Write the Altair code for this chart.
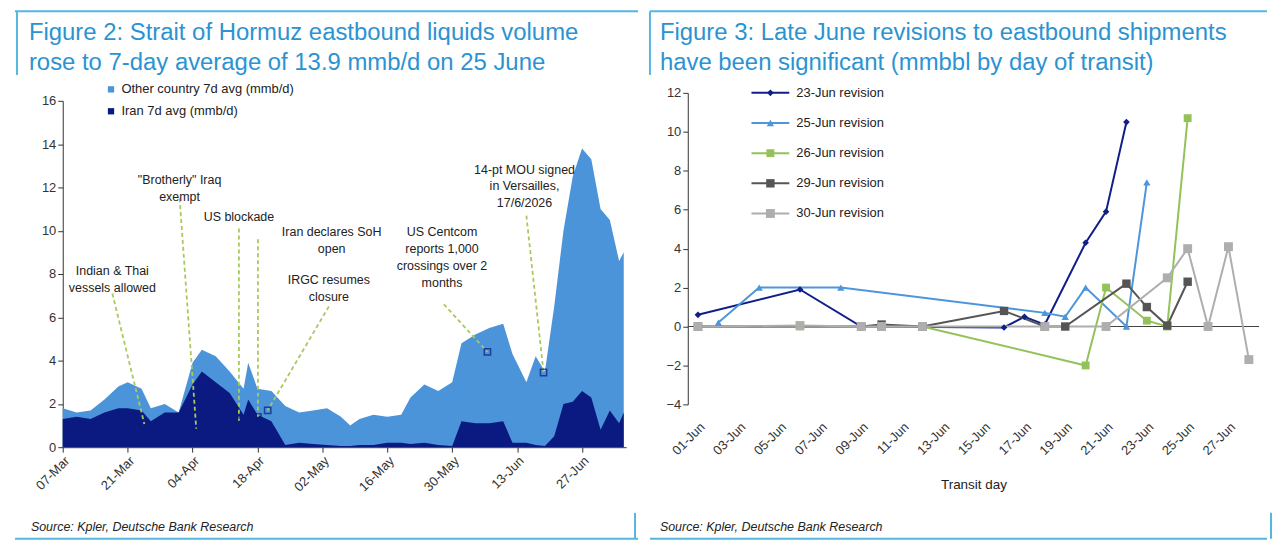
import pandas as pd
import altair as alt

FONT = "Liberation Sans, Arial"
TITLE_BLUE = "#2b93d1"
FRAME = "#55b6e0"

# ---- Figure 2 data: days after 07-Mar, total (other + Iran) and Iran, mmb/d
days = [0, 3, 6, 9, 12, 14, 17, 19, 22, 25, 28, 30, 33, 36, 39, 40, 42, 45, 48, 51,
        54, 57, 60, 62, 64, 67, 70, 73, 75, 78, 81, 84, 86, 89, 92, 95, 97, 100, 102,
        104, 106, 108, 110, 112, 114, 116, 118, 120, 121]
total = [1.8, 1.6, 1.7, 2.2, 2.8, 3.0, 2.7, 1.8, 2.0, 1.6, 3.9, 4.5, 4.2, 3.5, 2.7,
         3.9, 2.7, 2.6, 1.9, 1.6, 1.7, 1.8, 1.4, 1.0, 1.3, 1.5, 1.4, 1.5, 2.3, 2.9,
         2.6, 3.0, 4.8, 5.2, 5.5, 5.7, 4.3, 3.0, 4.2, 3.5, 6.5, 10.0, 12.5, 13.8,
         13.3, 11.0, 10.5, 8.6, 9.0]
iran = [1.3, 1.4, 1.3, 1.6, 1.8, 1.8, 1.7, 1.2, 1.6, 1.6, 2.9, 3.5, 3.0, 2.5, 1.5,
        2.2, 1.5, 1.2, 0.1, 0.2, 0.15, 0.1, 0.05, 0.05, 0.1, 0.1, 0.2, 0.2, 0.15, 0.2,
        0.1, 0.05, 1.2, 1.1, 1.1, 1.2, 0.2, 0.2, 0.1, 0.05, 0.5, 2.0, 2.1, 2.6, 2.3,
        0.8, 1.7, 1.1, 1.6]
OTHER = "Other country 7d avg (mmb/d)"
IRAN = "Iran 7d avg (mmb/d)"

# annotations: text, text day, text y, line start (day, y), marker (day, y)
ann_text = ["Indian & Thai\nvessels allowed", "\"Brotherly\" Iraq\nexempt", "US blockade",
            "Iran declares SoH\nopen", "IRGC resumes\nclosure",
            "US Centcom\nreports 1,000\ncrossings over 2\nmonths",
            "14-pt MOU signed\nin Versailles,\n17/6/2026"]
ann_tx = [10.7, 25.2, 38.0, 58.0, 57.4, 81.8, 99.6]
ann_ty = [8.4, 12.6, 10.9, 10.2, 8.0, 10.2, 13.1]
ann_lx = [10.7, 25.2, 38.0, 42.1, 57.4, 82.2, 100.0]
ann_ly = [7.1, 11.5, 10.1, 9.6, 6.5, 6.6, 10.7]
ann_mx = [17.6, 28.8, 38.0, 42.1, 44.2, 91.6, 103.7]
ann_my = [1.07, 0.85, 1.2, 1.4, 1.7, 4.4, 3.45]

# ---- Figure 3 data: revisions by transit day (day of June)
rev_names = ["23-Jun revision", "25-Jun revision", "26-Jun revision",
             "29-Jun revision", "30-Jun revision"]
rev_days = [
    [1, 6, 9, 16, 17, 18, 20, 21, 22],
    [2, 4, 8, 18, 19, 20, 22, 23],
    [1, 6, 9, 10, 12, 20, 21, 23, 24, 25],
    [1, 9, 10, 12, 16, 18, 19, 22, 23, 24, 25],
    [1, 6, 9, 10, 12, 18, 21, 24, 25, 26, 27, 28],
]
rev_vals = [
    [0.6, 1.9, 0.0, -0.05, 0.5, 0.1, 4.3, 5.9, 10.5],
    [0.2, 2.0, 2.0, 0.7, 0.5, 2.0, 0.0, 7.4],
    [0.0, 0.0, 0.0, 0.0, 0.0, -2.0, 2.0, 0.3, 0.0, 10.7],
    [0.0, 0.0, 0.1, 0.0, 0.8, 0.0, 0.0, 2.2, 1.0, 0.05, 2.3],
    [0.0, 0.05, 0.0, 0.0, 0.0, 0.0, 0.0, 2.5, 4.0, 0.0, 4.1, -1.7],
]
rev_colors = ["#101e8a", "#4d95dc", "#94c25a", "#555555", "#aeaeae"]
rev_shapes = ["diamond", "triangle-up", "square", "square", "square"]
rev_sizes = [45, 80, 40, 110, 110]

start = pd.Timestamp("2026-03-07")
area_df = pd.DataFrame({
    "date": [start + pd.Timedelta(days=d) for d in days] * 2,
    "v": total + iran,
    "s": [OTHER] * len(days) + [IRAN] * len(days),
})
ann_df = pd.DataFrame({
    "t": ann_text,
    "tx": [start + pd.Timedelta(days=d) for d in ann_tx],
    "ty": ann_ty,
    "lx": [start + pd.Timedelta(days=d) for d in ann_lx],
    "ly": ann_ly,
    "mx": [start + pd.Timedelta(days=d) for d in ann_mx],
    "my": ann_my,
})

W1, H1 = 566, 348
W2, H2 = 574, 313


def frame(left, right, top, bottom, vx_top, vx_bottom, src_x, title, tx, ty):
    lines = pd.DataFrame({
        "x": [left, vx_top, left, vx_bottom],
        "x2": [right, vx_top, right, vx_bottom],
        "y": [top, top, bottom, bottom - 26],
        "y2": [top, top + 64, bottom, bottom],
    })
    fr = alt.Chart(lines).mark_rule(color=FRAME, strokeWidth=2).encode(
        x=alt.X("x:Q", scale=None), x2="x2:Q", y=alt.Y("y:Q", scale=None), y2="y2:Q")
    src = alt.Chart(pd.DataFrame({"t": ["Source: Kpler, Deutsche Bank Research"]})).mark_text(
        align="left", fontStyle="italic", fontSize=12.5, font=FONT, color="#222").encode(
        x=alt.value(src_x), y=alt.value(bottom - 12), text="t:N")
    ttl = alt.Chart(pd.DataFrame({"t": [title]})).mark_text(
        align="left", baseline="top", fontSize=24, font=FONT, color=TITLE_BLUE,
        lineBreak="\n", lineHeight=30).encode(x=alt.value(tx), y=alt.value(ty), text="t:N")
    return fr + src + ttl


xl = alt.X("date:T", scale=alt.Scale(type="utc", domain=[start.isoformat(), (start + pd.Timedelta(days=121.5)).isoformat()]),
           axis=alt.Axis(title=None, format="%d-%b", labelAngle=-45, grid=False,
                         values=[(start + pd.Timedelta(days=14 * k)).isoformat() for k in range(9)],
                         labelAlign="right", labelBaseline="top", domainColor="#333", tickColor="#333"))
yl = alt.Y("v:Q", scale=alt.Scale(domain=[0, 16]),
           axis=alt.Axis(title=None, values=list(range(0, 17, 2)), grid=False, labelOverlap=False,
                         domainColor="#333", tickColor="#333"))
col1 = alt.Color("s:N", scale=alt.Scale(domain=[OTHER, IRAN], range=["#4b94da", "#0b1a80"]),
                 legend=alt.Legend(title=None, orient="none", legendX=42, legendY=-18, labelLimit=0,
                                   symbolType="square", symbolSize=40, labelFontSize=13,
                                   labelColor="#222", rowPadding=8))

base1 = alt.Chart(area_df)
a_other = base1.transform_filter(alt.datum.s == OTHER).mark_area().encode(x=xl, y=yl, color=col1)
a_iran = base1.transform_filter(alt.datum.s == IRAN).mark_area().encode(x=xl, y=yl, color=col1)

ab = alt.Chart(ann_df)
ann_lines = ab.mark_rule(color="#a9c95e", strokeDash=[4, 3], strokeWidth=1.8).encode(
    x="lx:T", y="ly:Q", x2="mx:T", y2="my:Q")
ann_marks = ab.mark_point(shape="square", filled=False, color="#0b1a80", size=40, strokeWidth=1.5).encode(
    x="mx:T", y="my:Q")
ann_labels = ab.mark_text(fontSize=12.5, font=FONT, color="#222", lineBreak="\n",
                          baseline="top", lineHeight=17).encode(x="tx:T", y="ty:Q", text="t:N")

fig2 = alt.layer(a_other, a_iran, ann_lines, ann_marks, ann_labels,
                 frame(-48, 578, -90, 440, -46, 575, -32,
                       "Figure 2: Strait of Hormuz eastbound liquids volume\nrose to 7-day average of 13.9 mmb/d on 25 June",
                       -34, -80)).properties(width=W1, height=H1)

rows = []
for name, ds, vs in zip(rev_names, rev_days, rev_vals):
    for d, v in zip(ds, vs):
        rows.append({"s": name, "date": pd.Timestamp(2026, 6, d), "v": v})
rev_df = pd.DataFrame(rows)

xr = alt.X("date:T", scale=alt.Scale(type="utc", domain=["2026-05-31T12:00:00", "2026-06-28T12:00:00"]),
           axis=alt.Axis(title="Transit day", titleFontWeight="normal", titleFontSize=13.5,
                         titleColor="#222", titlePadding=20, format="%d-%b", labelAngle=-45,
                         labelAlign="right", labelBaseline="top", grid=False, domain=False, ticks=False,
                         labelOverlap=False, labelPadding=8,
                         values=[pd.Timestamp(2026, 6, d).isoformat() for d in range(1, 28, 2)]))
# plot area sits 8px higher than the left panel's
yr = alt.Y("v:Q", scale=alt.Scale(domain=[-4, 12], range=[H2 - 8, -8]),
           axis=alt.Axis(title=None, values=list(range(-4, 13, 2)), grid=False, labelOverlap=False,
                         domainColor="#333", tickColor="#333"))
col2 = alt.Color("s:N", scale=alt.Scale(domain=rev_names, range=rev_colors), legend=None)
shp = alt.Shape("s:N", scale=alt.Scale(domain=rev_names, range=rev_shapes), legend=None)
sz = alt.Size("s:N", scale=alt.Scale(domain=rev_names, range=rev_sizes), legend=None)

b2 = alt.Chart(rev_df)
zero = alt.Chart(pd.DataFrame({"v": [0]})).mark_rule(color="#444", strokeWidth=1.2).encode(y=yr)
rl = b2.mark_line(strokeWidth=2).encode(x=xr, y=yr, color=col2, detail="s:N")
rp = b2.mark_point(filled=True, opacity=1).encode(x=xr, y=yr, color=col2, shape=shp, size=sz)

# hand-drawn legend (line + marker + label)
leg_df = pd.DataFrame({"s": rev_names, "row": [i * 30.3 - 8 for i in range(len(rev_names))]})
lb = alt.Chart(leg_df)
leg_y = alt.Y("row:Q", scale=None)
leg_line = lb.mark_rule(strokeWidth=2).encode(x=alt.value(64), x2=alt.value(102), y=leg_y, color=col2)
leg_pt = lb.mark_point(filled=True, opacity=1).encode(x=alt.value(83), y=leg_y, color=col2, shape=shp, size=sz)
leg_txt = lb.mark_text(align="left", fontSize=13, font=FONT, color="#222").encode(
    x=alt.value(109), y=leg_y, text="s:N")

fig3 = alt.layer(zero, rl, rp, leg_line, leg_pt, leg_txt,
                 frame(-38, 582, -90, 440, -38, 586, -28,
                       "Figure 3: Late June revisions to eastbound shipments\nhave been significant (mmbbl by day of transit)",
                       -28, -80)).properties(width=W2, height=H2)

chart = alt.hconcat(fig2, fig3, spacing=10).resolve_scale(
    color="independent", shape="independent", size="independent").configure_view(
    stroke=None).configure_axis(labelFont=FONT, titleFont=FONT, labelFontSize=13, labelColor="#333").configure_legend(
    labelFont=FONT).properties(padding={"left": 6, "top": 1, "right": 0, "bottom": 0})

chart.save("out.html", embed_options={"renderer": "svg", "actions": False})
